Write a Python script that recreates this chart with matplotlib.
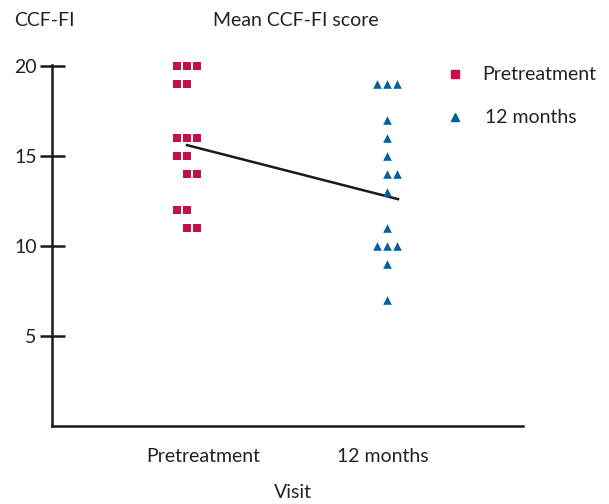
import matplotlib
matplotlib.use("Agg")
import matplotlib.pyplot as plt

# Individual CCF-FI scores per visit (value, column slot within the category)
pre_scores = [20, 20, 20, 19, 19, 16, 16, 16, 15, 15, 14, 14, 12, 12, 11, 11]
pre_slots = [-1, 0, 1, -1, 0, -1, 0, 1, -1, 0, 0, 1, -1, 0, 0, 1]
post_scores = [19, 19, 19, 17, 16, 15, 14, 14, 13, 11, 10, 10, 10, 9, 7]
post_slots = [-1, 0, 1, 0, 0, 0, 0, 1, 0, 0, -1, 0, 1, 0, 0]

visits = ["Pretreatment", "12 months"]
mean_scores = [15.6, 12.6]
yticks = [5, 10, 15, 20]

plt.rcParams['font.family'] = ['Lato', 'DejaVu Sans']
fs = 14
tc = "#222222"

fig = plt.figure(figsize=(6.09, 5.04), dpi=100)
ax = fig.add_axes([52/609, 78/504, 471/609, 361/504])

step = 0.05
xpos = [1, 2]
ax.scatter([xpos[0] + s*step for s in pre_slots], pre_scores, marker="s", s=30,
           color="#C50F4F", clip_on=False, zorder=3, linewidths=0)
ax.scatter([xpos[1] + s*step for s in post_slots], post_scores, marker="^", s=38,
           color="#005F9E", clip_on=False, zorder=3, linewidths=0)
ax.plot([xpos[0], xpos[1] + 0.055], mean_scores, color="#1a1a1a", lw=1.8, zorder=2)

ax.set_xlim(0.325, 2.68)
ax.set_ylim(0, 20.05)
ax.spines['top'].set_visible(False)
ax.spines['right'].set_visible(False)
for sp in ['left', 'bottom']:
    ax.spines[sp].set_linewidth(1.8)
    ax.spines[sp].set_color("#1a1a1a")

ax.set_yticks(yticks)
ax.tick_params(axis='y', direction='inout', length=18, width=1.8, color="#1a1a1a",
               labelsize=fs, pad=2, labelcolor=tc)
ax.set_xticks([1.08, 1.98])
ax.set_xticklabels(visits, fontsize=fs, color=tc)
ax.tick_params(axis='x', length=0, pad=16)

fig.text(14/609, 1 - 20/504, "CCF-FI", fontsize=fs, va="center", ha="left", color=tc)
fig.text(296/609, 1 - 20/504, "Mean CCF-FI score", fontsize=fs, va="center", ha="center", color=tc)
fig.text(293/609, 1 - 493/504, "Visit", fontsize=fs, va="center", ha="center", color=tc)

# legend drawn as markers + text in figure coords
fig.lines.append(plt.Line2D([455/609], [1 - 74/504], marker="s", ms=5.5, color="#C50F4F",
                            ls="none", transform=fig.transFigure))
fig.lines.append(plt.Line2D([455/609], [1 - 117/504], marker="^", ms=6, color="#005F9E",
                            ls="none", transform=fig.transFigure))
fig.text(482/609, 1 - 74/504, visits[0], fontsize=fs, va="center", ha="left", color=tc)
fig.text(485/609, 1 - 117/504, visits[1], fontsize=fs, va="center", ha="left", color=tc)

fig.savefig("out.png", dpi=100)
